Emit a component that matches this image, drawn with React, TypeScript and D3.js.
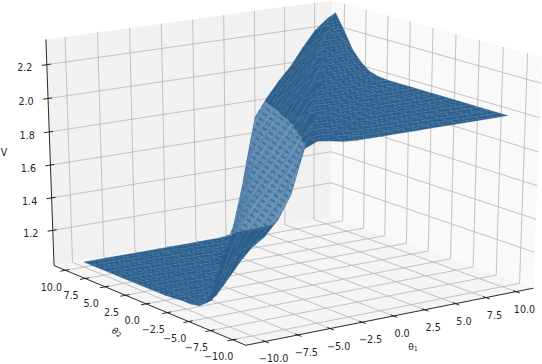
import React from "react";
import * as d3 from "d3";

const theta1Values = d3.range(-10, 10.5, 1);
const theta2Values = d3.range(10, -10.5, -1);
const tickValues = [-10, -7.5, -5, -2.5, 0, 2.5, 5, 7.5, 10];
const zTicks = [1.2, 1.4, 1.6, 1.8, 2.0, 2.2];
const P = 11.46;
const Z_LO = 1.0;
const Z_HI = 2.335;

// V: one row per theta2 (10 ... -10), one column per theta1 (-10 ... 10)
const r10 = [1.03,1.03,1.03,1.03,1.03,1.03,1.03,1.03,1.03,1.03,1.03,1.03,1.04,1.35,1.73,1.84,1.93,2.01,2.11,2.2,2.26];
const r9 = [1.03,1.03,1.03,1.03,1.03,1.03,1.03,1.03,1.03,1.03,1.03,1.03,1.2,1.63,1.8,1.89,1.98,2.06,2.14,2.24,2.31];
const r8 = [1.03,1.03,1.03,1.03,1.03,1.03,1.03,1.03,1.03,1.03,1.03,1.08,1.53,1.74,1.85,1.94,2.03,2.11,2.2,2.25,2.22];
const r7 = [1.03,1.03,1.03,1.03,1.03,1.03,1.03,1.03,1.03,1.03,1.06,1.42,1.68,1.81,1.9,1.99,2.08,2.17,2.25,2.21,2.12];
const r6 = [1.03,1.03,1.03,1.03,1.03,1.03,1.03,1.03,1.03,1.04,1.3,1.62,1.76,1.86,1.95,2.04,2.14,2.23,2.21,2.125,2.06];
const r5 = [1.03,1.03,1.03,1.03,1.03,1.03,1.03,1.03,1.03,1.24,1.52,1.7,1.82,1.91,2.0,2.1,2.2,2.21,2.14,2.065,2.02];
const r4 = [1.03,1.03,1.03,1.03,1.03,1.03,1.03,1.03,1.18,1.46,1.65,1.78,1.88,1.97,2.07,2.17,2.195,2.15,2.07,2.025,2.005];
const r3 = [1.03,1.03,1.03,1.03,1.03,1.03,1.03,1.13,1.39,1.6,1.74,1.84,1.94,2.04,2.14,2.19,2.16,2.08,2.03,2.005,2.0];
const r2 = [1.03,1.03,1.03,1.03,1.03,1.03,1.09,1.33,1.54,1.68,1.79,1.89,2.0,2.1,2.18,2.155,2.08,2.03,2.005,2.0,2.0];
const r1 = [1.03,1.03,1.03,1.03,1.03,1.06,1.28,1.49,1.65,1.75,1.85,1.95,2.06,2.17,2.15,2.085,2.04,2.005,2.0,2.0,2.0];
const r0 = [1.03,1.03,1.03,1.03,1.05,1.24,1.44,1.61,1.71,1.82,1.92,2.03,2.13,2.135,2.087,2.04,2.01,2.0,2.0,2.0,2.0];
const rm1 = [1.035,1.035,1.03,1.05,1.2,1.39,1.56,1.68,1.77,1.86,1.97,2.08,2.13,2.1,2.045,2.015,2.0,2.0,2.0,2.0,2.0];
const rm2 = [1.04,1.03,1.04,1.15,1.35,1.52,1.65,1.74,1.84,1.95,2.06,2.12,2.095,2.05,2.016,2.0,2.0,2.0,2.0,2.0,2.0];
const rm3 = [1.04,1.04,1.11,1.31,1.47,1.61,1.7,1.79,1.9,2.02,2.108,2.09,2.046,2.016,2.0,2.0,2.0,2.0,2.0,2.0,2.0];
const rm4 = [1.05,1.07,1.27,1.44,1.58,1.68,1.76,1.86,1.98,2.09,2.08,2.045,2.02,2.0,2.0,2.0,2.0,2.0,2.0,2.0,2.0];
const rm5 = [1.09,1.22,1.39,1.54,1.65,1.73,1.82,1.94,2.07,2.076,2.05,2.02,2.005,2.0,2.0,2.0,2.0,2.0,2.0,2.0,2.0];
const rm6 = [1.15,1.31,1.47,1.6,1.69,1.76,1.87,2.0,2.075,2.055,2.025,2.005,2.0,2.0,2.0,2.0,2.0,2.0,2.0,2.0,2.0];
const rm7 = [1.24,1.4,1.52,1.62,1.7,1.84,1.99,2.065,2.05,2.02,2.005,2.0,2.0,2.0,2.0,2.0,2.0,2.0,2.0,2.0,2.0];
const rm8 = [1.33,1.45,1.54,1.63,1.74,1.92,2.05,2.045,2.025,2.005,2.0,2.0,2.0,2.0,2.0,2.0,2.0,2.0,2.0,2.0,2.0];
const rm9 = [1.42,1.5,1.58,1.7,1.86,2.03,2.04,2.025,2.01,2.0,2.0,2.0,2.0,2.0,2.0,2.0,2.0,2.0,2.0,2.0,2.0];
const rm10 = [1.5,1.55,1.63,1.76,2.0,2.03,2.02,2.005,2.0,2.0,2.0,2.0,2.0,2.0,2.0,2.0,2.0,2.0,2.0,2.0,2.0];
const surface = [r10,r9,r8,r7,r6,r5,r4,r3,r2,r1,r0,rm1,rm2,rm3,rm4,rm5,rm6,rm7,rm8,rm9,rm10];

const ELEV = (20 * Math.PI) / 180;
const AZIM = (-125 * Math.PI) / 180;
const DIST = 10;
const xUnit = d3.scaleLinear().domain([-P, P]).range([-0.5, 0.5]);
const yUnit = d3.scaleLinear().domain([-P, P]).range([-0.5, 0.5]);
const zUnit = d3.scaleLinear().domain([Z_LO, Z_HI]).range([-0.5, 0.5]);
const sx = d3.scaleLinear().domain([0, 1]).range([291, 291 + 350]);
const sy = d3.scaleLinear().domain([0, 1]).range([164.5, 164.5 - 243]);
// Height of the printed z ticks on the box
const tickZ = d3.scaleLinear().domain([0.981, 2.348]).range([Z_LO, Z_HI]);
// Where the pale stretch of the wall starts and ends, as V against theta2
const wallFoot = d3.scaleLinear().domain([10, -10]).range([1.03, 1.61]);
const wallTop = d3.scaleLinear().domain([10, -10]).range([1.82, 2.0]);

const n = [Math.cos(ELEV) * Math.cos(AZIM), Math.cos(ELEV) * Math.sin(AZIM), Math.sin(ELEV)];
const hyp = Math.hypot(n[0], n[1]);
const u = [-n[1] / hyp, n[0] / hyp, 0];
const v = [n[1] * u[2] - n[2] * u[1], n[2] * u[0] - n[0] * u[2], n[0] * u[1] - n[1] * u[0]];

type Pt = [number, number];
type P3 = [number, number, number];
const depth = (a: number, b: number, c: number) =>
  xUnit(a) * n[0] + yUnit(b) * n[1] + zUnit(c) * n[2];
const project = (a: number, b: number, c: number): Pt => {
  const x = xUnit(a), y = yUnit(b), z = zUnit(c);
  const f = 1 / (1 - depth(a, b, c) / DIST);
  return [sx((x * u[0] + y * u[1] + z * u[2]) * f), sy((x * v[0] + y * v[1] + z * v[2]) * f)];
};
const line = d3.line<Pt>();
const closed = (pts: Pt[]) => line(pts) + "Z";
const path3 = (pts: P3[]) => line(pts.map((p) => project(p[0], p[1], p[2])))!;
const closed3 = (pts: P3[]) => path3(pts) + "Z";

// Keep the part of a 3D polygon where f >= 0
const clipBy = (poly: P3[], f: (p: P3) => number): P3[] => {
  const out: P3[] = [];
  poly.forEach((p, i) => {
    const q = poly[(i + 1) % poly.length];
    const fp = f(p), fq = f(q);
    if (fp >= 0) out.push(p);
    if (fp >= 0 !== fq >= 0) {
      const t = fp / (fp - fq);
      out.push([p[0] + t * (q[0] - p[0]), p[1] + t * (q[1] - p[1]), p[2] + t * (q[2] - p[2])]);
    }
  });
  return out;
};

const GRID = "#bcbcbc";
const INK = "#262626";
const fmt = d3.format(".1f");
const label = (t: number) => fmt(t).replace("-", "\u2212");

type Quad = { d: string; depth: number; steep: boolean; pale: string | null };
const quads: Quad[] = [];
for (let j = 0; j < theta2Values.length - 1; j++) {
  for (let i = 0; i < theta1Values.length - 1; i++) {
    const corners: P3[] = [
      [theta1Values[i], theta2Values[j], surface[j][i]],
      [theta1Values[i + 1], theta2Values[j], surface[j][i + 1]],
      [theta1Values[i + 1], theta2Values[j + 1], surface[j + 1][i + 1]],
      [theta1Values[i], theta2Values[j + 1], surface[j + 1][i]],
    ];
    const rise = (surface[j][i + 1] + surface[j + 1][i + 1] - surface[j][i] - surface[j + 1][i]) / 2;
    const steep = rise > 0.07;
    let pale: string | null = null;
    if (steep) {
      const a = clipBy(corners, (p) => p[2] - wallFoot(p[1]));
      const b = a.length ? clipBy(a, (p) => wallTop(p[1]) - p[2]) : a;
      if (b.length > 2) pale = closed3(b);
    }
    quads.push({
      d: closed3(corners),
      depth: d3.mean(corners, (c) => depth(c[0], c[1], c[2]))!,
      steep,
      pale,
    });
  }
}
const sorted = d3.sort(quads, (q) => q.depth);

const font = "DejaVu Sans, sans-serif";

export default function App() {
  return (
    <svg
      width={542}
      height={364}
      style={{ position: "absolute", left: 0, top: 0, background: "#fff" }}
      fontFamily={font}
    >
      <defs>
        <pattern id="flat" width="5" height="3" patternUnits="userSpaceOnUse" patternTransform="rotate(-8)">
          <rect width="5" height="3" fill="#2c5f8d" />
          <rect x="0" y="1" width="3" height="1" fill="#46779f" />
        </pattern>
        <pattern id="wall" width="8" height="6" patternUnits="userSpaceOnUse" patternTransform="rotate(35)">
          <rect width="8" height="6" fill="#6a93b6" />
          <rect x="0" y="1" width="5" height="2" fill="#3f709b" />
        </pattern>
      </defs>
      {/* panes */}
      <path d={closed3([[-P, P, Z_LO], [P, P, Z_LO], [P, P, Z_HI], [-P, P, Z_HI]])} fill="#f1f1f1" />
      <path d={closed3([[P, P, Z_LO], [P, -P, Z_LO], [P, -P, Z_HI], [P, P, Z_HI]])} fill="#f9f9f9" />
      <path d={closed3([[-P, -P, Z_LO], [P, -P, Z_LO], [P, P, Z_LO], [-P, P, Z_LO]])} fill="#f5f5f5" />
      {/* grid */}
      <g fill="none" stroke={GRID} strokeWidth={0.9}>
        {tickValues.map((t) => (
          <path key={"a" + t} d={path3([[t, -P, Z_LO], [t, P, Z_LO], [t, P, Z_HI]])} />
        ))}
        {tickValues.map((t) => (
          <path key={"b" + t} d={path3([[-P, t, Z_LO], [P, t, Z_LO], [P, t, Z_HI]])} />
        ))}
        {zTicks.map((t) => (
          <path key={"c" + t} d={path3([[-P, P, tickZ(t)], [P, P, tickZ(t)], [P, -P, tickZ(t)]])} />
        ))}
      </g>
      {/* surface */}
      <g>
        {sorted.map((q, i) => (
          <g key={i}>
            <path
              d={q.d}
              fill={q.steep ? "#2c5e8c" : "url(#flat)"}
              stroke={q.steep ? "#2c5e8c" : "#30628f"}
              strokeWidth={0.3}
            />
            {q.pale && <path d={q.pale} fill="url(#wall)" stroke="#6a93b6" strokeWidth={0.3} />}
          </g>
        ))}
      </g>
      {/* axes */}
      <g fill="none" stroke="#111" strokeWidth={0.9}>
        <path d={path3([[-P, P, Z_LO], [-P, P, Z_HI]])} />
        <path d={path3([[-P, P, Z_LO], [-P, -P, Z_LO], [P, -P, Z_LO]])} />
        {tickValues.map((t) => (
          <path key={"tx" + t} d={path3([[t, -P - 0.4, Z_LO], [t, -P + 0.3, Z_LO]])} />
        ))}
        {tickValues.map((t) => (
          <path key={"ty" + t} d={path3([[-P - 0.4, t, Z_LO], [-P + 0.3, t, Z_LO]])} />
        ))}
        {zTicks.map((t) => (
          <path key={"tz" + t} d={path3([[-P - 0.4, P, tickZ(t)], [-P + 0.3, P, tickZ(t)]])} />
        ))}
      </g>
      {/* labels */}
      <g fontSize={9.6} fill={INK} textAnchor="middle" dominantBaseline="central">
        {tickValues.map((t) => {
          const [x, y] = project(t, -P, Z_LO);
          return <text key={"lx" + t} x={x + 8.5} y={y + 17.5}>{label(t)}</text>;
        })}
        {tickValues.map((t) => {
          const [x, y] = project(-P, t, Z_LO);
          return <text key={"ly" + t} x={x - 14} y={y + 17}>{label(t)}</text>;
        })}
        {zTicks.map((t) => {
          const [x, y] = project(-P, P, tickZ(t));
          return <text key={"lz" + t} x={x - 22} y={y + 3.3}>{fmt(t)}</text>;
        })}
        <text x={4} y={152}>V</text>
        <text x={413} y={347} fontSize={9}>
          θ<tspan fontSize={6.5} dy={2}>1</tspan>
        </text>
        <text x={117} y={332} fontSize={9} fontStyle="italic" transform="rotate(24 117 332)">
          θ<tspan fontSize={6.5} dy={2}>2</tspan>
        </text>
      </g>
    </svg>
  );
}
